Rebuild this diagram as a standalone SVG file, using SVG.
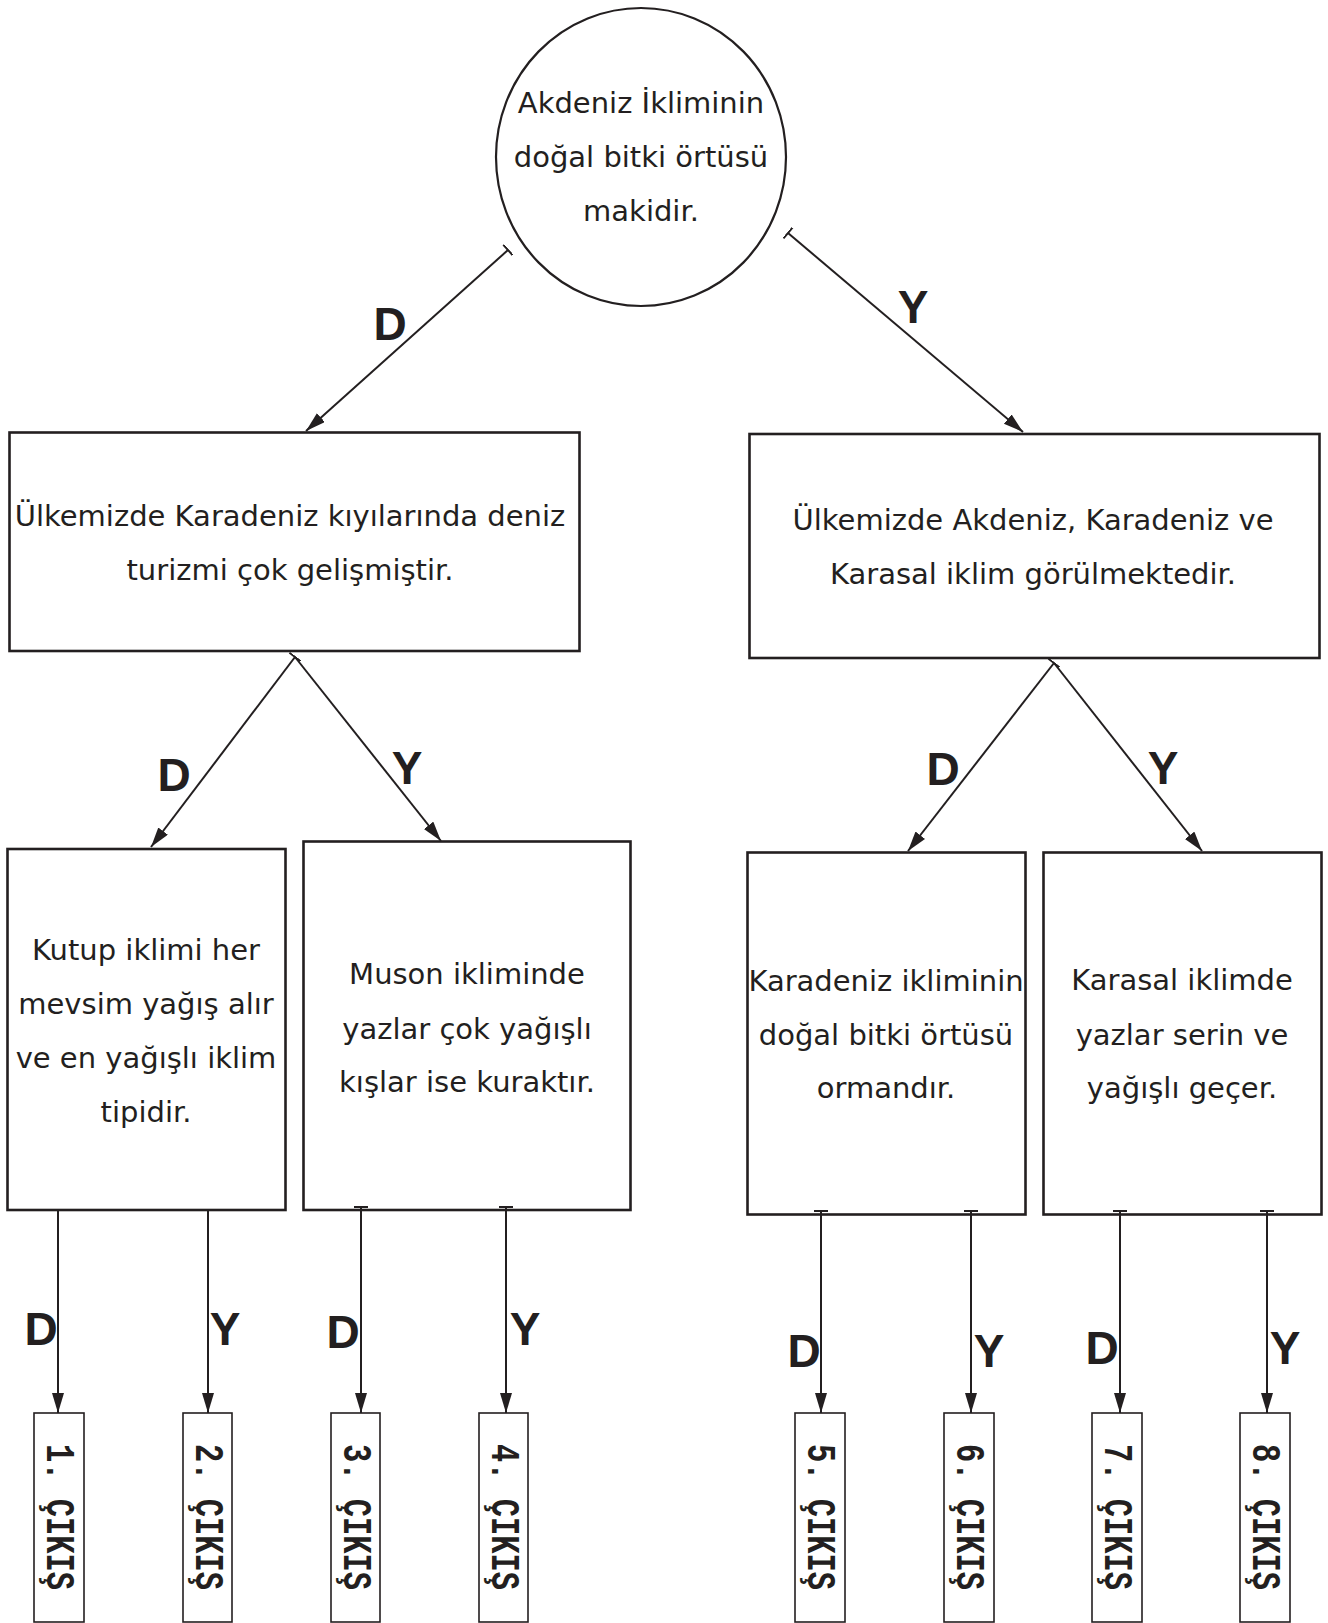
<svg xmlns="http://www.w3.org/2000/svg" width="1328" height="1623" viewBox="0 0 1328 1623">
<style>
.box{fill:#fff;stroke:#231f20;stroke-width:2.6}
.ex{fill:#fff;stroke:#231f20;stroke-width:1.6}
.t{font-family:"DejaVu Sans","Open Sans",sans-serif;font-size:29px;fill:#231f20;text-anchor:middle}
.lb{font-family:"Liberation Sans",Arial,sans-serif;font-weight:bold;font-size:46px;fill:#231f20;text-anchor:middle}
.xt{font-family:"Liberation Mono","Courier New",monospace;font-weight:bold;font-size:40px;fill:#231f20}
.c{fill:none;stroke:#231f20;stroke-width:2}
</style>
<defs>
<marker id="ah" markerUnits="userSpaceOnUse" markerWidth="22" markerHeight="14" refX="20" refY="6" orient="auto">
<path d="M0,0 L20,6 L0,12 Z" fill="#231f20"/>
</marker>
<marker id="tk" markerUnits="userSpaceOnUse" markerWidth="4" markerHeight="16" refX="1" refY="7" orient="auto">
<path d="M1,0 L1,14" stroke="#231f20" stroke-width="2"/>
</marker>
</defs>
<rect width="1328" height="1623" fill="#fff"/>

<g id="root">
<ellipse cx="641" cy="157" rx="145" ry="149" fill="#fff" stroke="#231f20" stroke-width="2.2"/>
<text class="t" x="641" y="113">Akdeniz İkliminin</text>
<text class="t" x="641" y="167">doğal bitki örtüsü</text>
<text class="t" x="641" y="221">makidir.</text>
</g>

<g id="n-left">
<rect class="box" x="9.5" y="432.5" width="570" height="218.5"/>
<text class="t" x="290" y="526">Ülkemizde Karadeniz kıyılarında deniz</text>
<text class="t" x="290" y="580">turizmi çok gelişmiştir.</text>
</g>

<g id="n-right">
<rect class="box" x="749.5" y="434" width="570" height="224"/>
<text class="t" x="1033" y="530">Ülkemizde Akdeniz, Karadeniz ve</text>
<text class="t" x="1033" y="584">Karasal iklim görülmektedir.</text>
</g>

<g id="n-a">
<rect class="box" x="7.5" y="849" width="278" height="361"/>
<text class="t" x="146" y="960">Kutup iklimi her</text>
<text class="t" x="146" y="1014">mevsim yağış alır</text>
<text class="t" x="146" y="1068">ve en yağışlı iklim</text>
<text class="t" x="146" y="1122">tipidir.</text>
</g>

<g id="n-b">
<rect class="box" x="303.5" y="841.5" width="327" height="368.5"/>
<text class="t" x="467" y="984">Muson ikliminde</text>
<text class="t" x="467" y="1039">yazlar çok yağışlı</text>
<text class="t" x="467" y="1092">kışlar ise kuraktır.</text>
</g>

<g id="n-c">
<rect class="box" x="747.5" y="852.5" width="278" height="362"/>
<text class="t" x="886" y="991">Karadeniz ikliminin</text>
<text class="t" x="886" y="1045">doğal bitki örtüsü</text>
<text class="t" x="886" y="1098">ormandır.</text>
</g>

<g id="n-d">
<rect class="box" x="1043.5" y="852.5" width="278" height="362"/>
<text class="t" x="1182" y="990">Karasal iklimde</text>
<text class="t" x="1182" y="1045">yazlar serin ve</text>
<text class="t" x="1182" y="1098">yağışlı geçer.</text>
</g>

<g id="exit1"><rect class="ex" x="34" y="1413" width="50" height="209"/><text class="xt" transform="translate(47,1444) rotate(90)" textLength="146" lengthAdjust="spacingAndGlyphs">1. ÇIKIŞ</text></g>
<g id="exit2"><rect class="ex" x="183" y="1413" width="49" height="209"/><text class="xt" transform="translate(196,1444) rotate(90)" textLength="146" lengthAdjust="spacingAndGlyphs">2. ÇIKIŞ</text></g>
<g id="exit3"><rect class="ex" x="331" y="1413" width="49" height="209"/><text class="xt" transform="translate(344,1444) rotate(90)" textLength="146" lengthAdjust="spacingAndGlyphs">3. ÇIKIŞ</text></g>
<g id="exit4"><rect class="ex" x="479" y="1413" width="49" height="209"/><text class="xt" transform="translate(492,1444) rotate(90)" textLength="146" lengthAdjust="spacingAndGlyphs">4. ÇIKIŞ</text></g>
<g id="exit5"><rect class="ex" x="795" y="1413" width="50" height="209"/><text class="xt" transform="translate(808,1444) rotate(90)" textLength="146" lengthAdjust="spacingAndGlyphs">5. ÇIKIŞ</text></g>
<g id="exit6"><rect class="ex" x="944" y="1413" width="50" height="209"/><text class="xt" transform="translate(957,1444) rotate(90)" textLength="146" lengthAdjust="spacingAndGlyphs">6. ÇIKIŞ</text></g>
<g id="exit7"><rect class="ex" x="1092" y="1413" width="50" height="209"/><text class="xt" transform="translate(1105,1444) rotate(90)" textLength="146" lengthAdjust="spacingAndGlyphs">7. ÇIKIŞ</text></g>
<g id="exit8"><rect class="ex" x="1240" y="1413" width="50" height="209"/><text class="xt" transform="translate(1253,1444) rotate(90)" textLength="146" lengthAdjust="spacingAndGlyphs">8. ÇIKIŞ</text></g>

<g id="connectors">
<line class="c" x1="508" y1="250" x2="306" y2="431" marker-start="url(#tk)" marker-end="url(#ah)"/>
<line class="c" x1="788" y1="233" x2="1023" y2="432" marker-start="url(#tk)" marker-end="url(#ah)"/>
<line class="c" x1="295" y1="657" x2="151" y2="847" marker-start="url(#tk)" marker-end="url(#ah)"/>
<line class="c" x1="295" y1="657" x2="441" y2="841" marker-end="url(#ah)"/>
<line class="c" x1="1054" y1="663" x2="908" y2="851" marker-start="url(#tk)" marker-end="url(#ah)"/>
<line class="c" x1="1054" y1="663" x2="1202" y2="851" marker-end="url(#ah)"/>
<line class="c" x1="58" y1="1211" x2="58" y2="1413" marker-end="url(#ah)"/>
<line class="c" x1="208" y1="1211" x2="208" y2="1413" marker-end="url(#ah)"/>
<line class="c" x1="361" y1="1207" x2="361" y2="1413" marker-start="url(#tk)" marker-end="url(#ah)"/>
<line class="c" x1="506" y1="1207" x2="506" y2="1413" marker-start="url(#tk)" marker-end="url(#ah)"/>
<line class="c" x1="821" y1="1211" x2="821" y2="1413" marker-start="url(#tk)" marker-end="url(#ah)"/>
<line class="c" x1="971" y1="1211" x2="971" y2="1413" marker-start="url(#tk)" marker-end="url(#ah)"/>
<line class="c" x1="1120" y1="1211" x2="1120" y2="1413" marker-start="url(#tk)" marker-end="url(#ah)"/>
<line class="c" x1="1267" y1="1211" x2="1267" y2="1413" marker-start="url(#tk)" marker-end="url(#ah)"/>
<text class="lb" x="390" y="340">D</text>
<text class="lb" x="913" y="323">Y</text>
<text class="lb" x="174" y="791">D</text>
<text class="lb" x="407" y="784">Y</text>
<text class="lb" x="943" y="785">D</text>
<text class="lb" x="1163" y="784">Y</text>
<text class="lb" x="41" y="1345">D</text>
<text class="lb" x="225" y="1345">Y</text>
<text class="lb" x="343" y="1348">D</text>
<text class="lb" x="525" y="1345">Y</text>
<text class="lb" x="804" y="1367">D</text>
<text class="lb" x="989" y="1367">Y</text>
<text class="lb" x="1102" y="1364">D</text>
<text class="lb" x="1285" y="1364">Y</text>
</g>
</svg>
